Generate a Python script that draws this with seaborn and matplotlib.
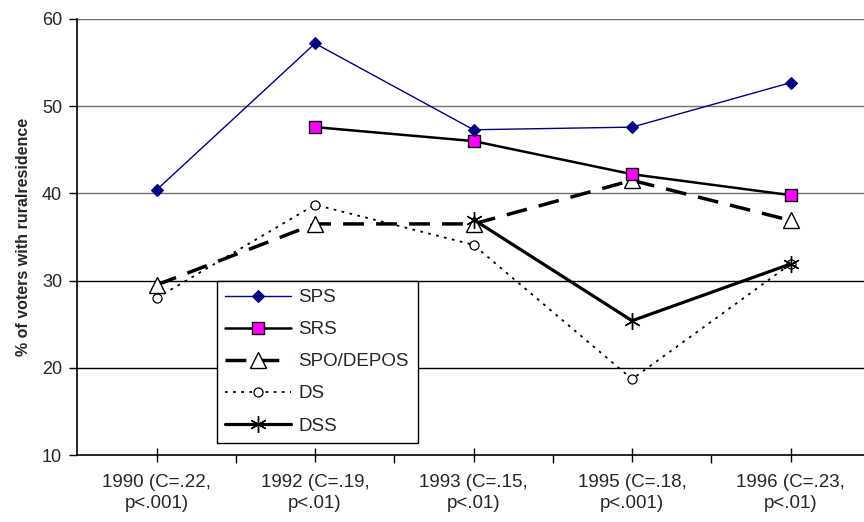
import numpy as np
import pandas as pd
import matplotlib
matplotlib.use("Agg")
import matplotlib.pyplot as plt
import seaborn as sns

categories = ["1990 (C=.22,\np<.001)", "1992 (C=.19,\np<.01)", "1993 (C=.15,\np<.01)",
              "1995 (C=.18,\np<.001)", "1996 (C=.23,\np<.01)"]
sps = [40.4, 57.2, 47.3, 47.6, 52.7]
srs = [np.nan, 47.6, 46.0, 42.2, 39.8]
spo_depos = [29.5, 36.5, 36.5, 41.5, 36.9]
ds = [28.0, 38.7, 34.1, 18.7, 31.9]
dss = [np.nan, np.nan, 37.0, 25.4, 31.9]
yticks = [10, 20, 30, 40, 50, 60]
ylabel = "% of voters with ruralresidence"

sns.set_theme(style="white")
plt.rcParams['font.family'] = ['Liberation Sans', 'DejaVu Sans']

fig = plt.figure(figsize=(8.64, 5.22), dpi=100)
W, H = 864, 522
ax = fig.add_axes([77.3 / W, (H - 455) / H, 792.5 / W, 436 / H])

pos = np.arange(len(categories))

def frame(vals):
    return pd.DataFrame({"x": pos, "y": vals}).dropna()

for v in yticks[1:]:
    ax.axhline(v, color="#707070" if v >= 40 else "black", lw=1.0, zorder=0.5)

sns.lineplot(data=frame(sps), x="x", y="y", ax=ax, color="#000080", lw=1.0,
             marker="D", markersize=6.5, markerfacecolor="#000080",
             markeredgecolor="#000080", markeredgewidth=0.8, label="SPS", zorder=6)
sns.lineplot(data=frame(spo_depos), x="x", y="y", ax=ax, color="black", lw=2.5,
             linestyle=(0, (6, 3.5)), marker="^", markersize=12,
             markerfacecolor="white", markeredgecolor="black", markeredgewidth=1.0,
             label="SPO/DEPOS", zorder=3)
sns.lineplot(data=frame(srs), x="x", y="y", ax=ax, color="black", lw=1.8,
             marker="s", markersize=8, markerfacecolor="#FF00FF",
             markeredgecolor="black", markeredgewidth=1.0, label="SRS", zorder=5)
sns.lineplot(data=frame(ds), x="x", y="y", ax=ax, color="black", lw=1.3,
             linestyle=(0, (1.5, 3)), marker="o", markersize=6.5,
             markerfacecolor="white", markeredgecolor="black", markeredgewidth=0.9,
             label="DS", zorder=2)
sns.lineplot(data=frame(dss), x="x", y="y", ax=ax, color="black", lw=2.3,
             marker=(6, 2, 0), markersize=12, markeredgecolor="black",
             markeredgewidth=1.0, label="DSS", zorder=4)

ax.set_xlim(-0.5, len(categories) - 0.5)
ax.set_ylim(10, 60)
ax.set_yticks(yticks)
ax.set_xticks(pos)
ax.set_xticklabels(categories, fontsize=13.5, linespacing=1.3)
ax.set_xticks(pos[:-1] + 0.5, minor=True)
ax.tick_params(axis="x", which="major", direction="inout", length=10, width=1,
               color="black", pad=9, bottom=True)
ax.tick_params(axis="x", which="minor", direction="out", length=6, width=1,
               color="black", bottom=True)
ax.tick_params(axis="y", which="major", direction="out", length=6, width=1,
               color="black", pad=5, left=True, labelsize=13)
ax.set_xlabel("")
ax.set_ylabel(ylabel, fontsize=11.5, fontweight="bold", labelpad=8)

for s in ["top", "right"]:
    ax.spines[s].set_visible(False)
for s in ["left", "bottom"]:
    ax.spines[s].set_color("black")
    ax.spines[s].set_linewidth(1.2)
ax.spines["bottom"].set_zorder(7)

handles, labels = ax.get_legend_handles_labels()
order = ["SPS", "SRS", "SPO/DEPOS", "DS", "DSS"]
hmap = dict(zip(labels, handles))
leg = ax.legend([hmap[k] for k in order], order, loc="lower left",
                bbox_to_anchor=((217 - 77.3) / 792.5, (455 - 443) / 436),
                borderaxespad=0, fontsize=13.5, handlelength=3.5, handletextpad=0.4,
                labelspacing=0.8, borderpad=0.45, frameon=True, fancybox=False,
                framealpha=1, edgecolor="black", facecolor="white")
leg.get_frame().set_linewidth(1.0)
leg.set_zorder(10)

fig.savefig("out.png", dpi=100)
